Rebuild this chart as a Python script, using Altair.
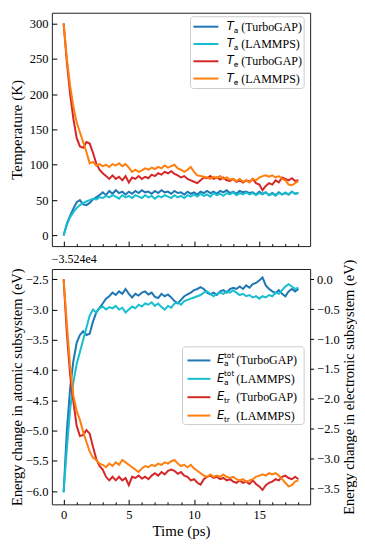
import altair as alt
import pandas as pd

TIME = [0, 0.25, 0.5, 0.75, 1, 1.25, 1.5, 1.75, 2, 2.25, 2.5, 2.75, 3, 3.25, 3.5, 3.75,
        4, 4.25, 4.5, 4.75, 5, 5.25, 5.5, 5.75, 6, 6.25, 6.5, 6.75, 7, 7.25, 7.5, 7.75,
        8, 8.25, 8.5, 8.75, 9, 9.25, 9.5, 9.75, 10, 10.25, 10.5, 10.75, 11, 11.25, 11.5, 11.75,
        12, 12.25, 12.5, 12.75, 13, 13.25, 13.5, 13.75, 14, 14.25, 14.5, 14.75, 15, 15.25, 15.5, 15.75,
        16, 16.25, 16.5, 16.75, 17, 17.25, 17.5, 17.75, 18]

TA_TURBOGAP = [0, 17, 28, 38, 47, 50, 44, 43, 46, 51, 54, 57, 61, 57, 63, 59,
               64, 60, 62, 58, 62, 59, 63, 60, 64, 61, 62, 59, 63, 60, 64, 61,
               62, 59, 63, 60, 61, 58, 62, 59, 61, 58, 62, 60, 63, 60, 62, 59,
               63, 61, 64, 60, 62, 59, 63, 61, 62, 60, 61, 58, 62, 59, 61, 57,
               60, 57, 61, 58, 60, 58, 62, 59, 60]
TA_LAMMPS = [0, 15, 26, 33, 39, 43, 46, 48, 50, 52, 51, 54, 53, 56, 54, 57,
             55, 52, 57, 54, 56, 53, 57, 55, 53, 57, 54, 56, 52, 56, 54, 57,
             55, 53, 57, 54, 56, 53, 57, 55, 58, 55, 59, 56, 58, 55, 60, 57,
             59, 56, 60, 58, 61, 57, 60, 58, 61, 58, 60, 57, 60, 58, 61, 57,
             59, 56, 60, 58, 61, 58, 62, 59, 60]
TE_TURBOGAP = [300, 245, 200, 165, 138, 126, 124, 132, 130, 117, 102, 93, 88, 84, 80, 85,
               80, 83, 78, 84, 75, 82, 80, 84, 80, 83, 81, 86, 84, 88, 86, 90,
               88, 91, 87, 85, 82, 84, 80, 78, 76, 74, 78, 82, 81, 84, 80, 82,
               79, 82, 78, 77, 80, 76, 78, 75, 78, 76, 80, 74, 72, 64, 70, 74,
               72, 78, 75, 82, 80, 78, 81, 77, 78]
TE_LAMMPS = [300, 250, 212, 182, 160, 146, 132, 118, 102, 104, 99, 101, 98, 100, 97, 101,
             99, 102, 98, 101, 96, 90, 93, 90, 92, 95, 93, 96, 94, 97, 95, 99,
             96, 98, 100, 95, 93, 90, 93, 97, 90, 85, 84, 83, 82, 80, 83, 81,
             84, 80, 82, 79, 80, 77, 80, 76, 78, 75, 80, 78, 82, 84, 85, 83,
             85, 82, 84, 80, 78, 72, 71, 74, 77]

EA_TURBOGAP = [-6.02, -5.0, -4.3, -3.85, -3.55, -3.42, -3.36, -3.42, -3.40, -3.2, -3.05, -2.97,
               -2.9, -2.82, -2.78, -2.72, -2.76, -2.7, -2.74, -2.66, -2.74, -2.8, -2.74, -2.77,
               -2.72, -2.7, -2.75, -2.72, -2.79, -2.81, -2.74, -2.78, -2.75, -2.8, -2.86, -2.9,
               -2.84, -2.78, -2.75, -2.72, -2.68, -2.66, -2.63, -2.66, -2.72, -2.75, -2.72, -2.76,
               -2.7, -2.68, -2.72, -2.66, -2.64, -2.66, -2.62, -2.66, -2.6, -2.64, -2.58, -2.56,
               -2.52, -2.47, -2.6, -2.66, -2.7, -2.73, -2.68, -2.74, -2.78, -2.7, -2.66, -2.7, -2.66]
EA_LAMMPS = [-6.02, -5.3, -4.65, -4.2, -3.9, -3.7, -3.5, -3.3, -3.1, -3.0, -3.05, -2.98,
             -2.95, -3.0, -2.96, -2.98, -2.94, -3.0, -2.97, -3.05, -3.0, -2.95, -2.98, -2.92,
             -2.95, -2.9, -2.92, -2.88, -2.94, -2.9, -2.96, -3.0, -2.94, -2.97, -2.9, -2.88,
             -2.92, -2.86, -2.84, -2.82, -2.8, -2.78, -2.76, -2.72, -2.7, -2.74, -2.78, -2.74,
             -2.72, -2.74, -2.7, -2.72, -2.68, -2.72, -2.76, -2.74, -2.78, -2.76, -2.8, -2.78,
             -2.82, -2.78, -2.8, -2.76, -2.78, -2.72, -2.74, -2.68, -2.62, -2.58, -2.62, -2.66, -2.64]
ETR_TURBOGAP = [0.0, -0.9, -1.6, -2.05, -2.45, -2.62, -2.6, -2.52, -2.58, -2.8, -3.0, -3.12,
                -3.18, -3.3, -3.36, -3.3, -3.36, -3.3, -3.36, -3.32, -3.44, -3.3, -3.32, -3.28,
                -3.33, -3.3, -3.34, -3.28, -3.24, -3.28, -3.22, -3.26, -3.2, -3.18, -3.2, -3.25,
                -3.22, -3.28, -3.3, -3.36, -3.34, -3.4, -3.43, -3.34, -3.3, -3.28, -3.32, -3.3,
                -3.34, -3.32, -3.36, -3.34, -3.38, -3.4, -3.36, -3.4, -3.38, -3.42, -3.36, -3.42,
                -3.46, -3.52, -3.44, -3.4, -3.38, -3.34, -3.36, -3.3, -3.28, -3.32, -3.34, -3.3, -3.34]
ETR_LAMMPS = [0.0, -0.75, -1.45, -1.95, -2.2, -2.35, -2.55, -2.72, -2.88, -2.98, -3.02, -3.08,
              -3.1, -3.14, -3.08, -3.12, -3.06, -3.1, -3.02, -3.06, -3.1, -3.14, -3.18, -3.22,
              -3.16, -3.12, -3.14, -3.1, -3.12, -3.08, -3.1, -3.06, -3.08, -3.04, -3.02, -3.08,
              -3.12, -3.1, -3.14, -3.1, -3.16, -3.2, -3.24, -3.28, -3.3, -3.26, -3.3, -3.28,
              -3.3, -3.26, -3.3, -3.32, -3.3, -3.34, -3.36, -3.34, -3.38, -3.36, -3.34, -3.3,
              -3.28, -3.26, -3.28, -3.24, -3.26, -3.24, -3.28, -3.34, -3.4, -3.46, -3.44, -3.38, -3.36]

KEYS = ["TurboGAP_a", "LAMMPS_a", "TurboGAP_e", "LAMMPS_e"]
COLORS = ["#1f77b4", "#17becf", "#d62728", "#ff7f0e"]

TOP_LETTER = ["T", "T", "T", "T"]
TOP_SUB = ["a", "a", "e", "e"]
TOP_SUP = ["", "", "", ""]
BOT_LETTER = ["E", "E", "E", "E"]
BOT_SUB = ["a", "a", "tr", "tr"]
BOT_SUP = ["tot", "tot", "", ""]
LEG_REST = ["(TurboGAP)", "(LAMMPS)", "(TurboGAP)", "(LAMMPS)"]

X_MAJOR = [0, 5, 10, 15]
X_MINOR = [1, 2, 3, 4, 6, 7, 8, 9, 11, 12, 13, 14, 16, 17, 18]
T_TICKS = [0, 50, 100, 150, 200, 250, 300]
EA_TICKS = [-6.0, -5.5, -5.0, -4.5, -4.0, -3.5, -3.0, -2.5]
ETR_TICKS = [0.0, -0.5, -1.0, -1.5, -2.0, -2.5, -3.0, -3.5]
OFFSET_TEXT = ["\u22123.524e4"]

SERIF = "Liberation Serif"
MATH = "DejaVu Sans"
W, H1, H2 = 259, 234, 236
AX = dict(labelFont=SERIF, titleFont=SERIF, labelFontSize=12.5, titleFontSize=15,
          titleFontWeight="normal", labelColor="black", titleColor="black",
          tickColor="black", tickWidth=1, domain=False, grid=False)


def long_df(pairs):
    rows = []
    for key, vals in pairs:
        for t, v in zip(TIME, vals):
            rows.append({"time": t, "value": v, "key": key})
    return pd.DataFrame(rows)


top_df = long_df([(KEYS[0], TA_TURBOGAP), (KEYS[1], TA_LAMMPS),
                  (KEYS[2], TE_TURBOGAP), (KEYS[3], TE_LAMMPS)])
ea_df = long_df([(KEYS[0], EA_TURBOGAP), (KEYS[1], EA_LAMMPS)])
etr_df = long_df([(KEYS[2], ETR_TURBOGAP), (KEYS[3], ETR_LAMMPS)])

xs = alt.Scale(domain=[-0.9, 18.9], nice=False, zero=False)
color = alt.Color("key:N", scale=alt.Scale(domain=KEYS, range=COLORS), legend=None)


def minor_layer():
    return alt.Chart(pd.DataFrame({"time": X_MINOR})).mark_rule(opacity=0).encode(
        x=alt.X("time:Q", scale=xs,
                axis=alt.Axis(values=X_MINOR, labels=False, tickSize=2.5, offset=-2.5,
                              orient="bottom", title=None, tickColor="black",
                              domain=False, grid=False))
    )


def legend_layers(letters, subs, sups, box, sym_x, letter_x, sub_x, rest_x, rows_range):
    df = pd.DataFrame({"row": [0, 1, 2, 3], "key": KEYS, "letter": letters,
                       "sub": subs, "sup": sups, "rest": LEG_REST})
    ly = alt.Y("row:Q", scale=alt.Scale(domain=[0, 3], range=rows_range), axis=None)
    base = alt.Chart(df)
    frame = alt.Chart(pd.DataFrame({"a": [0]})).mark_rect(
        fill="white", fillOpacity=0.85, stroke="#cccccc", strokeWidth=1, cornerRadius=3
    ).encode(x=alt.value(box[0]), x2=alt.value(box[1]), y=alt.value(box[2]), y2=alt.value(box[3]))
    sym = base.mark_rule(strokeWidth=2).encode(
        x=alt.value(sym_x[0]), x2=alt.value(sym_x[1]), y=ly, color=color)
    let = base.mark_text(font=MATH, fontStyle="italic", fontSize=11.5, align="left",
                         baseline="middle", color="black").encode(
        x=alt.value(letter_x), y=ly, text="letter:N")
    sub = base.mark_text(font=MATH, fontSize=7.5, align="left", baseline="middle",
                         dy=4, color="black").encode(x=alt.value(sub_x), y=ly, text="sub:N")
    sup = base.mark_text(font=MATH, fontSize=7.5, align="left", baseline="middle",
                         dy=-4.5, color="black").encode(x=alt.value(sub_x), y=ly, text="sup:N")
    rest = base.mark_text(font=SERIF, fontSize=12, align="left", baseline="middle",
                          color="black").encode(x=alt.value(rest_x), y=ly, text="rest:N")
    return [frame, sym, let, sub, sup, rest]


top_lines = alt.Chart(top_df).mark_line(strokeWidth=2).encode(
    x=alt.X("time:Q", scale=xs,
            axis=alt.Axis(values=X_MAJOR, labels=False, tickSize=5, offset=-5,
                          orient="bottom", title=None, **AX)),
    y=alt.Y("value:Q", scale=alt.Scale(domain=[-15, 315], nice=False, zero=False),
            axis=alt.Axis(values=T_TICKS, tickSize=5, offset=-5, orient="left",
                          labelPadding=4, titlePadding=5, title="Temperature (K)", **AX)),
    color=color,
)

top = alt.layer(
    top_lines, minor_layer(),
    *legend_layers(TOP_LETTER, TOP_SUB, TOP_SUP, (139, 253, 4, 76), (142, 167), 175.5, 182.5, 190,
                   [14, 66])
).resolve_scale(y="independent").resolve_axis(x="independent", y="independent").properties(
    width=W, height=H1)

AX_LEFT = dict(AX)
AX_LEFT["titleFontSize"] = 14.5

ea_lines = alt.Chart(ea_df).mark_line(strokeWidth=2).encode(
    x=alt.X("time:Q", scale=xs,
            axis=alt.Axis(values=X_MAJOR, tickSize=5, offset=-5, orient="bottom",
                          labelPadding=4, titlePadding=3, format="d", title="Time (ps)", **AX)),
    y=alt.Y("value:Q", scale=alt.Scale(domain=[-6.22, -2.33], nice=False, zero=False),
            axis=alt.Axis(values=EA_TICKS, format=".1f", tickSize=5, offset=-5, orient="left",
                          labelPadding=4, titlePadding=1,
                          title="Energy change in atomic subsystem (eV)", **AX_LEFT)),
    color=color,
)
etr_lines = alt.Chart(etr_df).mark_line(strokeWidth=2).encode(
    x=alt.X("time:Q", scale=xs, axis=None),
    y=alt.Y("value:Q", scale=alt.Scale(domain=[-3.76, 0.17], nice=False, zero=False),
            axis=alt.Axis(values=ETR_TICKS, format=".1f", tickSize=3.5, orient="right",
                          labelPadding=3, titlePadding=3, titleAngle=270, titleBaseline="top",
                          title="Energy change in electronic subsystem (eV)", **AX_LEFT)),
    color=color,
)
offset_txt = alt.Chart(pd.DataFrame({"txt": OFFSET_TEXT})).mark_text(
    font=SERIF, fontSize=12, align="left", baseline="alphabetic", color="black"
).encode(x=alt.value(0), y=alt.value(-6), text="txt:N")

bottom = alt.layer(
    ea_lines, etr_lines, minor_layer(), offset_txt,
    *legend_layers(BOT_LETTER, BOT_SUB, BOT_SUP, (131, 253, 78, 156), (136, 159), 165.5, 172.5, 185,
                   [91.7, 147])
).resolve_scale(y="independent").resolve_axis(x="independent", y="independent").properties(
    width=W, height=H2)

chart = alt.vconcat(top, bottom, spacing=23, bounds="flush").properties(
    padding={"left": 0, "right": 0, "top": 3, "bottom": 0}
).configure(
    font=SERIF
).configure_view(
    stroke="#222222", strokeWidth=1
).configure_axis(
    grid=False, domain=False, labelFont=SERIF, titleFont=SERIF
)

chart.save("out.html", embed_options={"renderer": "svg", "actions": False})
